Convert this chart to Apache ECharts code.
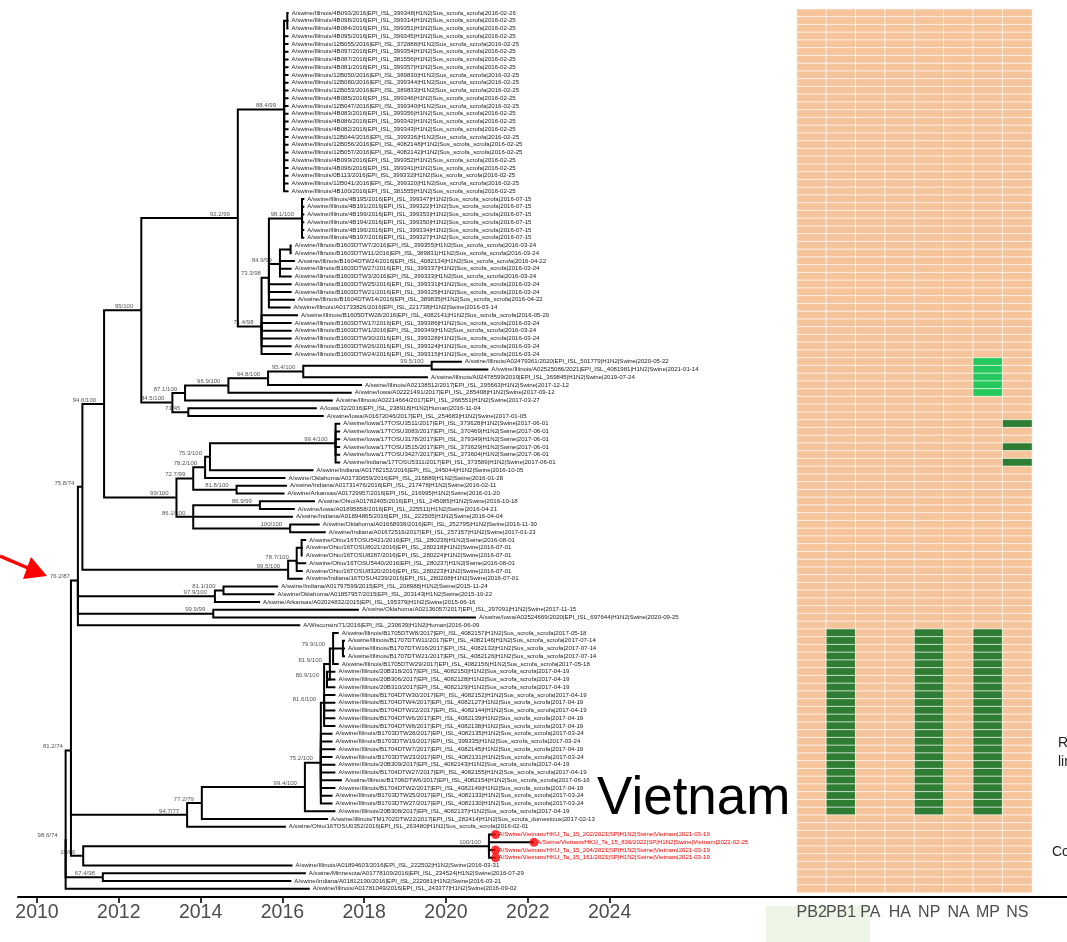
<!DOCTYPE html>
<html>
<head>
<meta charset="utf-8">
<script src="https://cdn.jsdelivr.net/npm/echarts@6/dist/echarts.min.js"></script>
<style>
html,body{margin:0;padding:0;background:#fff;}
#chart{width:1067px;height:942px;}
</style>
</head>
<body>
<div id="chart"></div>
<script>
// ---- tip labels, top to bottom (the sampling date ends every label) ----
const leafLabels = [
'A/swine/Illinois/4B093/2016|EPI_ISL_399348|H1N2|Sus_scrofa_scrofa|2016-02-26',
'A/swine/Illinois/4B098/2016|EPI_ISL_399314|H1N2|Sus_scrofa_scrofa|2016-02-25',
'A/swine/Illinois/4B084/2016|EPI_ISL_399351|H1N2|Sus_scrofa_scrofa|2016-02-25',
'A/swine/Illinois/4B095/2016|EPI_ISL_399345|H1N2|Sus_scrofa_scrofa|2016-02-25',
'A/swine/Illinois/12B055/2016|EPI_ISL_372888|H1N2|Sus_scrofa_scrofa|2016-02-25',
'A/swine/Illinois/4B097/2016|EPI_ISL_399354|H1N2|Sus_scrofa_scrofa|2016-02-25',
'A/swine/Illinois/4B087/2016|EPI_ISL_381556|H1N2|Sus_scrofa_scrofa|2016-02-25',
'A/swine/Illinois/4B081/2016|EPI_ISL_399357|H1N2|Sus_scrofa_scrofa|2016-02-25',
'A/swine/Illinois/12B050/2016|EPI_ISL_389830|H1N2|Sus_scrofa_scrofa|2016-02-25',
'A/swine/Illinois/12B080/2016|EPI_ISL_399344|H1N2|Sus_scrofa_scrofa|2016-02-25',
'A/swine/Illinois/12B053/2016|EPI_ISL_389833|H1N2|Sus_scrofa_scrofa|2016-02-25',
'A/swine/Illinois/4B085/2016|EPI_ISL_399346|H1N2|Sus_scrofa_scrofa|2016-02-25',
'A/swine/Illinois/12B047/2016|EPI_ISL_399340|H1N2|Sus_scrofa_scrofa|2016-02-25',
'A/swine/Illinois/4B083/2016|EPI_ISL_399356|H1N2|Sus_scrofa_scrofa|2016-02-25',
'A/swine/Illinois/4B086/2016|EPI_ISL_399342|H1N2|Sus_scrofa_scrofa|2016-02-25',
'A/swine/Illinois/4B082/2016|EPI_ISL_399343|H1N2|Sus_scrofa_scrofa|2016-02-25',
'A/swine/Illinois/12B044/2016|EPI_ISL_399336|H1N2|Sus_scrofa_scrofa|2016-02-25',
'A/swine/Illinois/12B056/2016|EPI_ISL_4082148|H1N2|Sus_scrofa_scrofa|2016-02-25',
'A/swine/Illinois/12B057/2016|EPI_ISL_4082142|H1N2|Sus_scrofa_scrofa|2016-02-25',
'A/swine/Illinois/4B099/2016|EPI_ISL_399352|H1N2|Sus_scrofa_scrofa|2016-02-25',
'A/swine/Illinois/4B096/2016|EPI_ISL_399341|H1N2|Sus_scrofa_scrofa|2016-02-25',
'A/swine/Illinois/0B113/2016|EPI_ISL_399332|H1N2|Sus_scrofa_scrofa|2016-02-25',
'A/swine/Illinois/12B041/2016|EPI_ISL_399320|H1N2|Sus_scrofa_scrofa|2016-02-25',
'A/swine/Illinois/4B100/2016|EPI_ISL_381555|H1N2|Sus_scrofa_scrofa|2016-02-25',
'A/swine/Illinois/4B195/2016|EPI_ISL_399347|H1N2|Sus_scrofa_scrofa|2016-07-15',
'A/swine/Illinois/4B191/2016|EPI_ISL_399322|H1N2|Sus_scrofa_scrofa|2016-07-15',
'A/swine/Illinois/4B199/2016|EPI_ISL_399353|H1N2|Sus_scrofa_scrofa|2016-07-15',
'A/swine/Illinois/4B194/2016|EPI_ISL_399350|H1N2|Sus_scrofa_scrofa|2016-07-15',
'A/swine/Illinois/4B196/2016|EPI_ISL_399334|H1N2|Sus_scrofa_scrofa|2016-07-15',
'A/swine/Illinois/4B197/2016|EPI_ISL_399327|H1N2|Sus_scrofa_scrofa|2016-07-15',
'A/swine/Illinois/B1603DTW7/2016|EPI_ISL_399355|H1N2|Sus_scrofa_scrofa|2016-03-24',
'A/swine/Illinois/B1603DTW11/2016|EPI_ISL_389831|H1N2|Sus_scrofa_scrofa|2016-03-24',
'A/swine/Illinois/B1604DTW24/2016|EPI_ISL_4082134|H1N2|Sus_scrofa_scrofa|2016-04-22',
'A/swine/Illinois/B1603DTW27/2016|EPI_ISL_399337|H1N2|Sus_scrofa_scrofa|2016-03-24',
'A/swine/Illinois/B1603DTW3/2016|EPI_ISL_399333|H1N2|Sus_scrofa_scrofa|2016-03-24',
'A/swine/Illinois/B1603DTW25/2016|EPI_ISL_399331|H1N2|Sus_scrofa_scrofa|2016-03-24',
'A/swine/Illinois/B1603DTW21/2016|EPI_ISL_399325|H1N2|Sus_scrofa_scrofa|2016-03-24',
'A/swine/Illinois/B1604DTW14/2016|EPI_ISL_389835|H1N2|Sus_scrofa_scrofa|2016-04-22',
'A/swine/Illinois/A01733826/2016|EPI_ISL_221738|H1N2|Swine|2016-03-14',
'A/swine/Illinois/B1605DTW28/2016|EPI_ISL_4082141|H1N2|Sus_scrofa_scrofa|2016-05-20',
'A/swine/Illinois/B1603DTW17/2016|EPI_ISL_399386|H1N2|Sus_scrofa_scrofa|2016-03-24',
'A/swine/Illinois/B1603DTW1/2016|EPI_ISL_399349|H1N2|Sus_scrofa_scrofa|2016-03-24',
'A/swine/Illinois/B1603DTW30/2016|EPI_ISL_399328|H1N2|Sus_scrofa_scrofa|2016-03-24',
'A/swine/Illinois/B1603DTW26/2016|EPI_ISL_399324|H1N2|Sus_scrofa_scrofa|2016-03-24',
'A/swine/Illinois/B1603DTW24/2016|EPI_ISL_399315|H1N2|Sus_scrofa_scrofa|2016-03-24',
'A/swine/Illinois/A02479361/2020|EPI_ISL_501779|H1N2|Swine|2020-05-22',
'A/swine/Illinois/A02525086/2021|EPI_ISL_4081981|H1N2|Swine|2021-01-14',
'A/swine/Illinois/A02478599/2019|EPI_ISL_369845|H1N2|Swine|2019-07-24',
'A/swine/Illinois/A02138512/2017|EPI_ISL_295663|H1N2|Swine|2017-12-12',
'A/swine/Iowa/A02221491/2017|EPI_ISL_285408|H1N2|Swine|2017-09-12',
'A/swine/Illinois/A02214664/2017|EPI_ISL_266551|H1N2|Swine|2017-03-27',
'A/Iowa/32/2016|EPI_ISL_238918|H1N2|Human|2016-11-04',
'A/swine/Iowa/A01672046/2017|EPI_ISL_254683|H1N2|Swine|2017-01-05',
'A/swine/Iowa/17TOSU3511/2017|EPI_ISL_373628|H1N2|Swine|2017-06-01',
'A/swine/Iowa/17TOSU3083/2017|EPI_ISL_370469|H1N2|Swine|2017-06-01',
'A/swine/Iowa/17TOSU3178/2017|EPI_ISL_379349|H1N2|Swine|2017-06-01',
'A/swine/Iowa/17TOSU3515/2017|EPI_ISL_373629|H1N2|Swine|2017-06-01',
'A/swine/Iowa/17TOSU3427/2017|EPI_ISL_373604|H1N2|Swine|2017-06-01',
'A/swine/Indiana/17TOSU5311/2017|EPI_ISL_373589|H1N2|Swine|2017-06-01',
'A/swine/Indiana/A01782152/2016|EPI_ISL_245044|H1N2|Swine|2016-10-05',
'A/swine/Oklahoma/A01730659/2016|EPI_ISL_216889|H1N2|Swine|2016-01-28',
'A/swine/Indiana/A01731476/2016|EPI_ISL_217478|H1N2|Swine|2016-02-11',
'A/swine/Arkansas/A01729957/2016|EPI_ISL_216995|H1N2|Swine|2016-01-20',
'A/swine/Ohio/A01782405/2016|EPI_ISL_245085|H1N2|Swine|2016-10-18',
'A/swine/Iowa/A01895858/2016|EPI_ISL_225511|H1N2|Swine|2016-04-21',
'A/swine/Indiana/A01894865/2016|EPI_ISL_222505|H1N2|Swine|2016-04-04',
'A/swine/Oklahoma/A01668938/2016|EPI_ISL_252795|H1N2|Swine|2016-11-30',
'A/swine/Indiana/A01672516/2017|EPI_ISL_257157|H1N2|Swine|2017-01-23',
'A/swine/Ohio/16TOSU5421/2016|EPI_ISL_280236|H1N2|Swine|2016-08-01',
'A/swine/Ohio/16TOSU8021/2016|EPI_ISL_280218|H1N2|Swine|2016-07-01',
'A/swine/Ohio/16TOSU8287/2016|EPI_ISL_280224|H1N2|Swine|2016-07-01',
'A/swine/Ohio/16TOSU5440/2016|EPI_ISL_280237|H1N2|Swine|2016-08-01',
'A/swine/Ohio/16TOSU8320/2016|EPI_ISL_280223|H1N2|Swine|2016-07-01',
'A/swine/Indiana/16TOSU4239/2016|EPI_ISL_280208|H1N2|Swine|2016-07-01',
'A/swine/Indiana/A01797599/2015|EPI_ISL_208988|H1N2|Swine|2015-11-24',
'A/swine/Oklahoma/A01857957/2015|EPI_ISL_203143|H1N2|Swine|2015-10-22',
'A/swine/Arkansas/A02024832/2015|EPI_ISL_195379|H1N2|Swine|2015-06-16',
'A/swine/Oklahoma/A02136057/2017|EPI_ISL_297091|H1N2|Swine|2017-11-15',
'A/swine/Iowa/A02524669/2020|EPI_ISL_697644|H1N2|Swine|2020-09-25',
'A/Wisconsin/71/2016|EPI_ISL_230639|H1N2|Human|2016-06-09',
'A/swine/Illinois/B1705DTW8/2017|EPI_ISL_4082157|H1N2|Sus_scrofa_scrofa|2017-05-18',
'A/swine/Illinois/B1707DTW11/2017|EPI_ISL_4082146|H1N2|Sus_scrofa_scrofa|2017-07-14',
'A/swine/Illinois/B1707DTW16/2017|EPI_ISL_4082132|H1N2|Sus_scrofa_scrofa|2017-07-14',
'A/swine/Illinois/B1707DTW21/2017|EPI_ISL_4082126|H1N2|Sus_scrofa_scrofa|2017-07-14',
'A/swine/Illinois/B1705DTW29/2017|EPI_ISL_4082156|H1N2|Sus_scrofa_scrofa|2017-05-18',
'A/swine/Illinois/20B318/2017|EPI_ISL_4082150|H1N2|Sus_scrofa_scrofa|2017-04-19',
'A/swine/Illinois/20B306/2017|EPI_ISL_4082128|H1N2|Sus_scrofa_scrofa|2017-04-19',
'A/swine/Illinois/20B310/2017|EPI_ISL_4082129|H1N2|Sus_scrofa_scrofa|2017-04-19',
'A/swine/Illinois/B1704DTW30/2017|EPI_ISL_4082152|H1N2|Sus_scrofa_scrofa|2017-04-19',
'A/swine/Illinois/B1704DTW4/2017|EPI_ISL_4082127|H1N2|Sus_scrofa_scrofa|2017-04-19',
'A/swine/Illinois/B1704DTW22/2017|EPI_ISL_4082144|H1N2|Sus_scrofa_scrofa|2017-04-19',
'A/swine/Illinois/B1704DTW6/2017|EPI_ISL_4082139|H1N2|Sus_scrofa_scrofa|2017-04-19',
'A/swine/Illinois/B1704DTW8/2017|EPI_ISL_4082138|H1N2|Sus_scrofa_scrofa|2017-04-19',
'A/swine/Illinois/B1703DTW28/2017|EPI_ISL_4082135|H1N2|Sus_scrofa_scrofa|2017-03-24',
'A/swine/Illinois/B1703DTW19/2017|EPI_ISL_399335|H1N2|Sus_scrofa_scrofa|2017-03-24',
'A/swine/Illinois/B1704DTW7/2017|EPI_ISL_4082145|H1N2|Sus_scrofa_scrofa|2017-04-19',
'A/swine/Illinois/B1703DTW23/2017|EPI_ISL_4082131|H1N2|Sus_scrofa_scrofa|2017-03-24',
'A/swine/Illinois/20B309/2017|EPI_ISL_4082143|H1N2|Sus_scrofa_scrofa|2017-04-19',
'A/swine/Illinois/B1704DTW27/2017|EPI_ISL_4082155|H1N2|Sus_scrofa_scrofa|2017-04-19',
'A/swine/Illinois/B1706DTW6/2017|EPI_ISL_4082154|H1N2|Sus_scrofa_scrofa|2017-06-16',
'A/swine/Illinois/B1704DTW2/2017|EPI_ISL_4082149|H1N2|Sus_scrofa_scrofa|2017-04-19',
'A/swine/Illinois/B1703DTW25/2017|EPI_ISL_4082133|H1N2|Sus_scrofa_scrofa|2017-03-24',
'A/swine/Illinois/B1703DTW27/2017|EPI_ISL_4082130|H1N2|Sus_scrofa_scrofa|2017-03-24',
'A/swine/Illinois/20B308/2017|EPI_ISL_4082137|H1N2|Sus_scrofa_scrofa|2017-04-19',
'A/swine/Illinois/TM1702DTW22/2017|EPI_ISL_282414|H1N2|Sus_scrofa_domesticus|2017-02-13',
'A/swine/Ohio/16TOSU0352/2016|EPI_ISL_263480|H1N2|Sus_scrofa_scrofa|2016-02-01',
'A/Swine/Vietnam/HKU_Ta_15_202/2021|SP|H1N2|Swine|Vietnam|2021-03-19',
'A/Swine/Vietnam/HKU_Ta_15_836/2022|SP|H1N2|Swine|Vietnam|2022-02-25',
'A/Swine/Vietnam/HKU_Ta_15_204/2021|SP|H1N2|Swine|Vietnam|2021-03-19',
'A/Swine/Vietnam/HKU_Ta_15_161/2021|SP|H1N2|Swine|Vietnam|2021-03-19',
'A/swine/Illinois/A01894603/2016|EPI_ISL_222502|H1N2|Swine|2016-03-31',
'A/swine/Minnesota/A01778109/2016|EPI_ISL_234524|H1N2|Swine|2016-07-29',
'A/swine/Indiana/A01812190/2016|EPI_ISL_222081|H1N2|Swine|2016-03-21',
'A/swine/Illinois/A01781049/2016|EPI_ISL_243377|H1N2|Swine|2016-09-02'
];

// tips sequenced in Vietnam (drawn in red with a dot)
const highlightedTips = [106, 107, 108, 109];

// ---- internal nodes: key, date (decimal year), support label, children ----
// children are tip row numbers or keys of other internal nodes
const nodeKeys = ['R','A','C','F','I','K','M','O','S0','P','Q','U','V','S1','N','W','Y','Z','a','b','X',
  'L','c','e','g','h','f','d','i','j','J','k','T','G','l','H','D','m','n','o','p','q','r','S2','s','E','VN','B'];
const nodeYears = [2010.70,2010.83,2011.00,2011.11,2011.64,2012.55,2014.91,2016.04,2016.12,2015.49,2015.67,
  2016.48,2015.94,2016.20,2013.31,2013.62,2014.68,2015.65,2016.51,2019.65,2013.70,
  2013.41,2013.82,2014.11,2014.23,2017.30,2014.88,2013.82,2015.45,2016.19,2016.14,2016.35,2016.47,
  2014.35,2014.56,2014.31,2013.67,2014.03,2016.55,2016.94,2017.02,2017.16,2017.24,2017.48,2017.09,
  2011.13,2021.05,2011.61];
const nodeSupport = ['98.6/74','81.2/74','76.2/87','75.8/74','94.6/100','95/100','92.2/99','88.4/99','',
  '71.4/98','73.3/98','98.1/100','84.9/99','','84.5/100','87.1/100','96.9/100','94.8/100','95.4/100',
  '99.5/100','71/45','99/100','72.7/99','78.2/100','75.3/100','99.4/100','81.8/100','86.1/100','86.9/99',
  '100/100','99.5/100','78.7/100','','97.9/100','81.1/100','99.9/99','94.7/77','77.2/79','99.4/100',
  '75.2/100','81.6/100','81.9/100','79.9/100','','80.9/100','10/66','100/100','67.4/98'];
const nodeKids = [
  ['A','B',113], ['C','D','E'], ['F','G','H',79], ['I','J'], ['K','L'], ['M','N'], ['O','P'],
  ['S0',3,4,5,6,7,8,9,10,11,12,13,14,15,16,17,18,19,20,21,22,23], [0,1,2],
  ['Q',39,40,41,42,43,44], ['U','V',35,36,37,38], [24,25,26,27,28,29], ['S1',32,33,34], [30,31],
  ['W','X'], ['Y',50], ['Z',49], ['a',48], ['b',47], [45,46], [51,52],
  ['c','d'], ['e','f'], ['g',60], ['h',59], [53,54,55,56,57,58], [61,62], ['i',65,'j'], [63,64], [66,67],
  ['k',73], ['T',71,72], [68,69,70],
  ['l',76], [74,75], [77,78], ['m',105], ['n',104], ['o',103],
  ['p',93,94,95,96,97,98,99,100,101,102], ['q',88,89,90,91,92], ['r','s'], [80,'S2',84], [81,82,83], [85,86,87],
  ['VN',110], [106,107,108,109], [111,112]
];

// ---- genome segments; rows whose segment falls in another lineage ----
const segments = ['PB2','PB1','PA','HA','NP','NA','MP','NS'];
const mpLightRows = [45, 46, 47, 48, 49];
const nsDarkRows = [53, 56, 58];
const clusterRows = [80,81,82,83,84,85,86,87,88,89,90,91,92,93,94,95,96,97,98,99,100,101,102,103];
const clusterSegments = ['PB1', 'NP', 'MP'];

const yearMin = 2010, yearMax = 2024, yearStep = 2;

// ---- layout helpers ----
function dateToYear(label) {
  const d = label.slice(-10).split('-').map(Number);
  const start = Date.UTC(d[0], 0, 1), end = Date.UTC(d[0] + 1, 0, 1);
  return d[0] + (Date.UTC(d[0], d[1] - 1, d[2]) - start) / (end - start);
}
const tipYears = leafLabels.map(dateToYear);
const nodeIndex = {};
nodeKeys.forEach((k, i) => { nodeIndex[k] = i; });

const nodeRow = {};
function rowOf(ref) {
  if (typeof ref === 'number') return ref;
  if (nodeRow[ref] === undefined) {
    const kids = nodeKids[nodeIndex[ref]];
    nodeRow[ref] = kids.reduce((s, c) => s + rowOf(c), 0) / kids.length;
  }
  return nodeRow[ref];
}
function yearOf(ref) {
  return typeof ref === 'number' ? tipYears[ref] : nodeYears[nodeIndex[ref]];
}

const branchData = [];
nodeKeys.forEach((k, i) => {
  nodeKids[i].forEach(c => {
    branchData.push([nodeYears[i], rowOf(k), yearOf(c), rowOf(c)]);
  });
});
const tipData = leafLabels.map((l, i) => [tipYears[i], i, i]);
const supportData = [];
nodeKeys.forEach((k, i) => {
  if (nodeSupport[i]) supportData.push([nodeYears[i], rowOf(k), i]);
});
const dotData = highlightedTips.map(i => [tipYears[i], i]);

const heatData = [];
leafLabels.forEach((l, r) => {
  segments.forEach((s, c) => {
    let v = 0;
    if (s === 'MP' && mpLightRows.includes(r)) v = 1;
    if (s === 'NS' && nsDarkRows.includes(r)) v = 2;
    if (clusterSegments.includes(s) && clusterRows.includes(r)) v = 2;
    heatData.push([c, r, v]);
  });
});

const FONT = '"Liberation Sans", Arial, Helvetica, sans-serif';
const rowCount = leafLabels.length;
const plotTop = 9.125, plotHeight = 883.5;

const chart = echarts.init(document.getElementById('chart'), null, { renderer: 'canvas' });

chart.setOption({
  animation: false,
  backgroundColor: '#ffffff',
  grid: [
    { left: 37, top: plotTop, width: 572.6, height: plotHeight },
    { left: 18, right: 0, top: plotTop, height: plotHeight },
    { left: 797, width: 235, top: plotTop, height: plotHeight }
  ],
  xAxis: [
    {
      gridIndex: 0, type: 'value', min: yearMin, max: yearMax, interval: yearStep,
      position: 'bottom', offset: 4.4,
      axisLine: { show: false, onZero: false },
      axisTick: { show: true, length: 6, lineStyle: { color: '#000', width: 1.6 } },
      axisLabel: { color: '#4d4d4d', fontSize: 19.5, fontFamily: FONT, margin: 6, formatter: v => String(v) },
      splitLine: { show: false }
    },
    {
      gridIndex: 1, type: 'value', min: 0, max: 1, position: 'bottom', offset: 4.4,
      axisLine: { show: true, onZero: false, lineStyle: { color: '#000', width: 2 } },
      axisTick: { show: false }, axisLabel: { show: false }, splitLine: { show: false }
    },
    {
      gridIndex: 2, type: 'category', data: segments, position: 'bottom',
      axisLine: { show: false, onZero: false }, axisTick: { show: false },
      axisLabel: { color: '#4d4d4d', fontSize: 16, fontFamily: FONT, margin: 12, interval: 0 }
    }
  ],
  yAxis: [
    { gridIndex: 0, type: 'value', min: -0.5, max: rowCount - 0.5, inverse: true, show: false },
    { gridIndex: 1, type: 'value', min: 0, max: 1, show: false },
    { gridIndex: 2, type: 'category', data: leafLabels.map((l, i) => i), inverse: true, show: false }
  ],
  visualMap: {
    show: false, type: 'piecewise', seriesIndex: 4, dimension: 2,
    pieces: [
      { value: 0, color: '#F6C49B' },
      { value: 1, color: '#25C85A' },
      { value: 2, color: '#2E7D32' }
    ]
  },
  series: [
    {
      // support values at the nodes
      type: 'custom', xAxisIndex: 0, yAxisIndex: 0, clip: false, silent: true, z: 2,
      data: supportData,
      renderItem: function (params, api) {
        const p = api.coord([api.value(0), api.value(1)]);
        return {
          type: 'text', x: p[0] - 8, y: p[1] - 0.8,
          style: { text: nodeSupport[api.value(2)], fill: '#555', font: '6px ' + FONT, align: 'right', verticalAlign: 'bottom' }
        };
      }
    },
    {
      // rectangular branches
      type: 'custom', xAxisIndex: 0, yAxisIndex: 0, clip: false, silent: true, z: 3,
      data: branchData,
      renderItem: function (params, api) {
        const a = api.coord([api.value(0), api.value(1)]);
        const b = api.coord([api.value(0), api.value(3)]);
        const c = api.coord([api.value(2), api.value(3)]);
        return {
          type: 'polyline', shape: { points: [a, b, c] },
          style: { stroke: '#000', lineWidth: 2, fill: null, lineJoin: 'miter', lineCap: 'butt' }
        };
      }
    },
    {
      // tip labels
      type: 'custom', xAxisIndex: 0, yAxisIndex: 0, clip: false, silent: true, z: 4,
      data: tipData,
      renderItem: function (params, api) {
        const i = api.value(2);
        const p = api.coord([api.value(0), api.value(1)]);
        const red = highlightedTips.includes(i);
        return {
          type: 'text', x: p[0] + 3, y: p[1],
          style: { text: leafLabels[i], fill: red ? '#FF0000' : '#222', font: '6.1px ' + FONT, align: 'left', verticalAlign: 'middle' }
        };
      }
    },
    {
      type: 'scatter', xAxisIndex: 0, yAxisIndex: 0, silent: true, z: 5,
      symbol: 'circle', symbolSize: 9, itemStyle: { color: '#FF0000' },
      data: dotData
    },
    {
      type: 'heatmap', xAxisIndex: 2, yAxisIndex: 2, silent: true,
      data: heatData,
      itemStyle: { borderColor: '#ffffff', borderWidth: 0.7 },
      emphasis: { disabled: true }
    }
  ],
  graphic: [
    { type: 'rect', z: -1, shape: { x: 766, y: 906, width: 104, height: 36 }, style: { fill: '#edf6e6' } },
    { type: 'text', left: 597, top: 773, style: { text: 'Vietnam', font: '53px ' + FONT, fill: '#000' } },
    { type: 'line', shape: { x1: 0, y1: 556, x2: 28, y2: 568 }, style: { stroke: '#FF0000', lineWidth: 3.5 } },
    { type: 'polygon', shape: { points: [[47, 576], [31, 557], [23, 579]] }, style: { fill: '#FF0000' } },
    { type: 'text', left: 1058, top: 736, style: { text: 'Reassortant', font: '14px ' + FONT, fill: '#222' } },
    { type: 'text', left: 1058, top: 755, style: { text: 'lineage', font: '14px ' + FONT, fill: '#222' } },
    { type: 'text', left: 1052, top: 845, style: { text: 'Co-circulating', font: '14px ' + FONT, fill: '#222' } }
  ]
});
</script>
</body>
</html>
